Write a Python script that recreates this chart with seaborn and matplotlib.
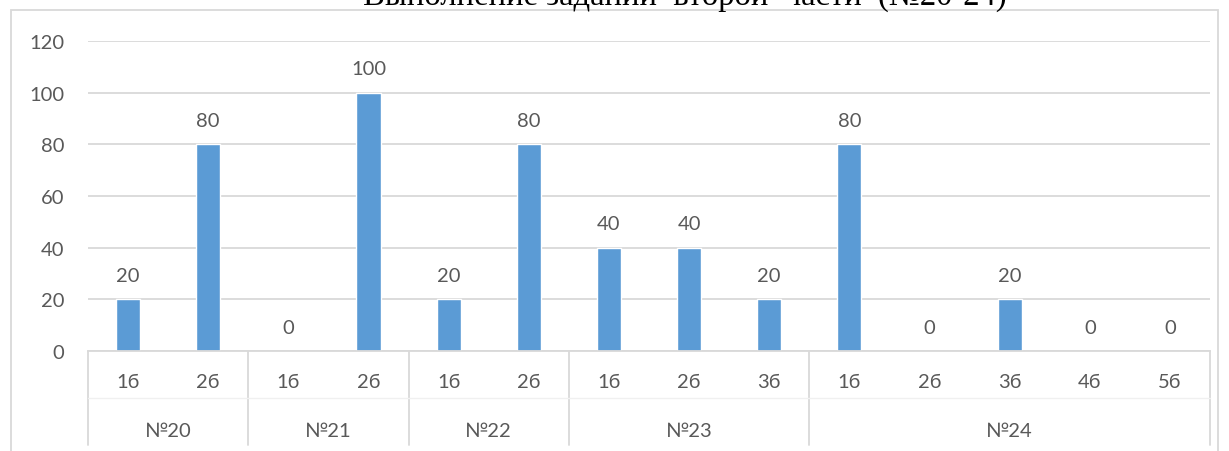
import seaborn as sns
import matplotlib.pyplot as plt
import pandas as pd
from matplotlib.patches import Rectangle

# data
groups = ["№20", "№20", "№21", "№21", "№22", "№22", "№23", "№23", "№23",
          "№24", "№24", "№24", "№24", "№24"]
points = ["1б", "2б", "1б", "2б", "1б", "2б", "1б", "2б", "3б",
          "1б", "2б", "3б", "4б", "5б"]
values = [20, 80, 0, 100, 20, 80, 40, 40, 20, 80, 0, 20, 0, 0]
title = "Выполнение заданий  второй  части  (№20-24)"

df = pd.DataFrame({"group": groups, "point": points, "value": values})
df["key"] = df["group"] + " " + df["point"]

sns.set_style("white")
plt.rcParams["font.family"] = ["Lato", "DejaVu Sans"]

grey = "#595959"
line = "#D9D9D9"
fs = 14.5

fig = plt.figure(figsize=(12.29, 4.52), dpi=100)
W, H = 1229, 452
ax = fig.add_axes([88 / W, (H - 352) / H, (1210 - 88) / W, 310 / H])

sns.barplot(data=df, x="key", y="value", order=list(df["key"]),
            color="#5B9BD5", saturation=1, width=0.3, ax=ax)

n = len(points)
ax.set_xlim(-0.5, n - 0.5)
ax.set_ylim(0, 120)
ax.set_yticks(range(0, 121, 20))
ax.yaxis.grid(True, color=line, lw=1.3)
ax.set_axisbelow(True)
ax.tick_params(axis="y", length=0, pad=17, labelsize=fs, labelcolor=grey)
ax.tick_params(axis="x", length=0, labelbottom=False)
ax.set_xlabel("")
ax.set_ylabel("")
for s in ["top", "left", "right"]:
    ax.spines[s].set_visible(False)
ax.spines["bottom"].set_color(line)
ax.spines["bottom"].set_linewidth(1.3)

for c in ax.containers:
    ax.bar_label(c, fmt="%g", padding=11, fontsize=fs, color=grey)

# two-level category axis
tr = ax.get_xaxis_transform()
for i, p in enumerate(points):
    ax.text(i, -0.1, p, transform=tr, ha="center", va="center",
            fontsize=fs, color=grey)

bounds = [-0.5]
for i in range(1, n):
    if groups[i] != groups[i - 1]:
        bounds.append(i - 0.5)
bounds.append(n - 0.5)
for b in bounds:
    ax.plot([b, b], [0, -0.303], transform=tr, color=line, lw=1.3, clip_on=False)
for a, b in zip(bounds[:-1], bounds[1:]):
    ax.text((a + b) / 2, -0.255, groups[int(a + 0.5)], transform=tr,
            ha="center", va="center", fontsize=fs, color=grey)
ax.plot([-0.5, n - 0.5], [-0.152, -0.152], transform=tr, color="#F0F0F0",
        lw=1, clip_on=False)

# chart frame and clipped title above it
fig.patches.append(Rectangle((11 / W, -0.1), (1218 - 11) / W, 1.1 - 11 / H,
                             transform=fig.transFigure, fill=False,
                             edgecolor=line, lw=1.3))
fig.text(685 / W, 1 - 5 / H, title, ha="center", va="baseline",
         family="Liberation Serif", fontsize=23.5, color="black")

fig.savefig("out.png", dpi=100)
